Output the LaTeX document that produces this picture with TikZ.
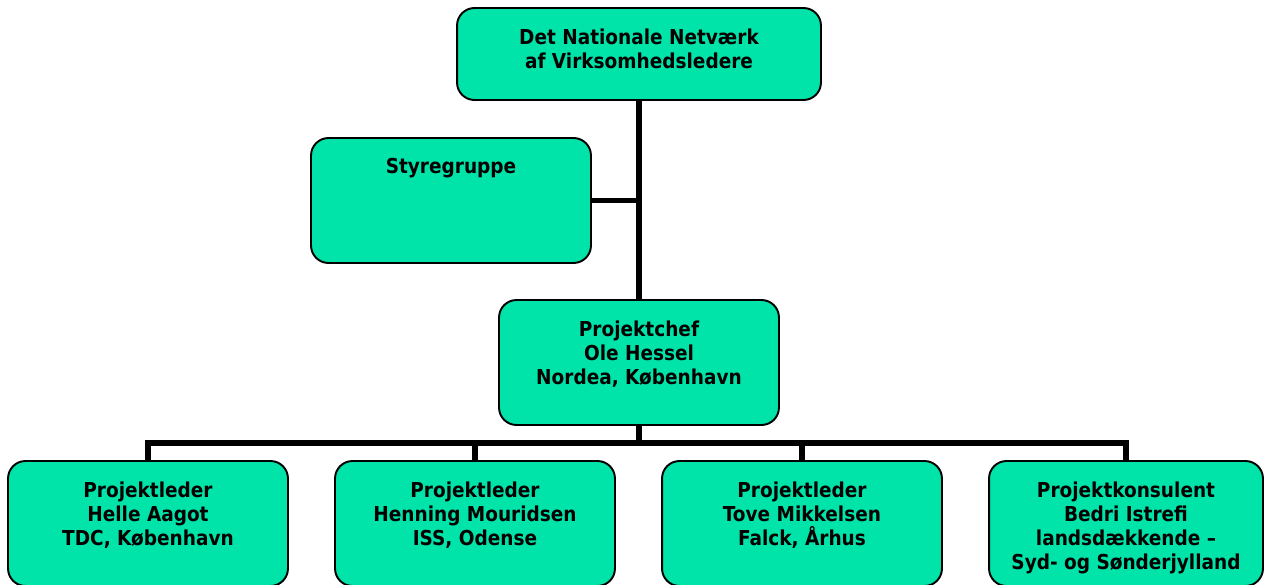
\documentclass[tikz,border=0pt]{standalone}
\usepackage{fontspec}
\setmainfont{DejaVu Sans Condensed}
\usetikzlibrary{positioning}
\definecolor{boxgreen}{RGB}{0,228,170}
\begin{document}
\begin{tikzpicture}[x=0.02cm,y=-0.02cm,
  box/.style={draw=black, line width=1.1pt, fill=boxgreen, rounded corners=0.35cm,
    minimum width=5.6cm, minimum height=2.5cm, inner sep=0pt},
  txt/.style={inner sep=0pt, align=center, font=\bfseries\fontsize{11.7}{13.8}\selectfont},
  conn/.style={line width=3pt}]
\useasboundingbox (0,0) rectangle (1265,585);
\node[box, minimum width=7.28cm, minimum height=1.84cm] (netv) at (639,54) {};
\node[txt, below=0.42cm of netv.north] (netv-t) {Det Nationale Netværk\\af Virksomhedsledere};
\node[box] (styre) at (451,200.5) {};
\node[txt, below=0.42cm of styre.north] (styre-t) {Styregruppe};
\node[box] (chef) at (639,362.5) {};
\node[txt, below=0.42cm of chef.north] (chef-t) {Projektchef\\Ole Hessel\\Nordea, København};
\foreach \nm/\cx/\bw/\tx in {
  helle/148/5.6cm/{Projektleder\\Helle Aagot\\TDC, København},
  henning/475/5.6cm/{Projektleder\\Henning Mouridsen\\ISS, Odense},
  tove/802/5.6cm/{Projektleder\\Tove Mikkelsen\\Falck, Århus},
  bedri/1126/5.48cm/{Projektkonsulent\\Bedri Istrefi\\landsdækkende –\\Syd- og Sønderjylland}}
{
  \node[box, minimum width=\bw] (\nm) at (\cx,523.5) {};
  \node[txt, below=0.42cm of \nm.north] (\nm-t) {\tx};
}
% connectors
\coordinate (bus) at (639,443);
\draw[conn] (netv.south) -- (chef.north);
\draw[conn] (styre.east) -- (styre.east -| chef.north);
\draw[conn] (chef.south) -- (bus);
\draw[conn] (helle.north) |- (bus) -| (bedri.north);
\draw[conn] (henning.north) -- (henning.north |- bus);
\draw[conn] (tove.north) -- (tove.north |- bus);
\end{tikzpicture}
\end{document}
